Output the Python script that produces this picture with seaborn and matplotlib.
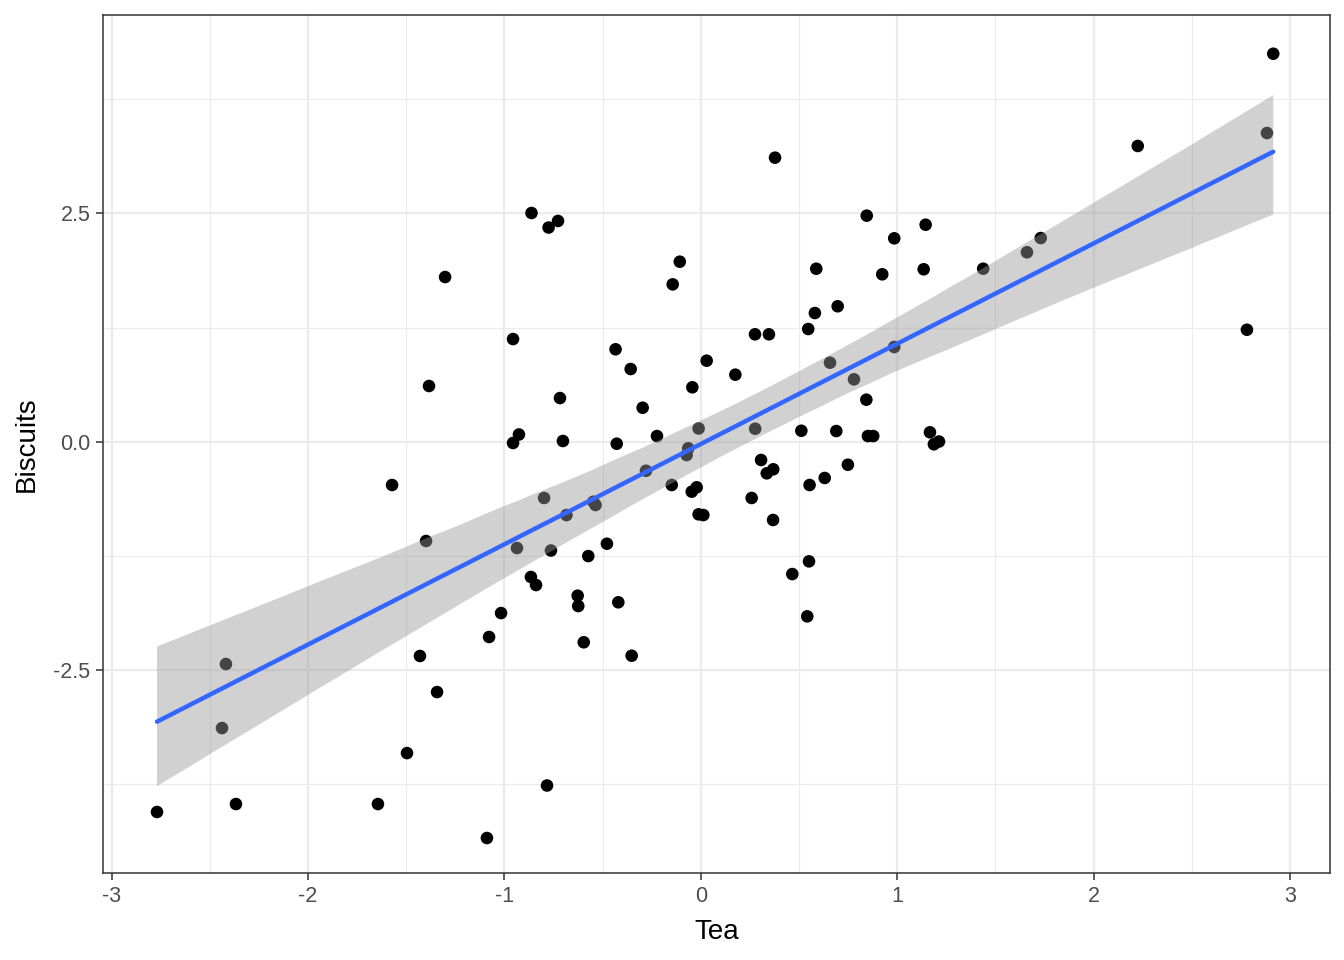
import numpy as np
import pandas as pd
import matplotlib
matplotlib.use("Agg")
import matplotlib.pyplot as plt
import seaborn as sns

tea = [-2.769, -2.418, -2.438, -2.367, -1.644, -1.496, -1.430, -1.343, -1.399, -1.384,
       -1.302, -1.572, -1.089, -1.078, -1.017, -0.956, -0.956, -0.926, -0.936, -0.862,
       -0.865, -0.839, -0.798, -0.775, -0.727, -0.717, -0.702, -0.684, -0.763, -0.783,
       -0.627, -0.624, -0.596, -0.573, -0.547, -0.536, -0.478, -0.434, -0.428, -0.420,
       -0.357, -0.352, -0.296, -0.279, -0.223, -0.143, -0.148, -0.107, -0.072, -0.064,
       -0.043, -0.046, -0.021, -0.011, -0.011, 0.013, 0.030, 0.176, 0.259, 0.276,
       0.277, 0.307, 0.336, 0.347, 0.369, 0.368, 0.378, 0.466, 0.512, 0.542,
       0.547, 0.551, 0.554, 0.581, 0.588, 0.631, 0.658, 0.690, 0.697, 0.749,
       0.780, 0.843, 0.845, 0.851, 0.878, 0.924, 0.985, 0.985, 1.135, 1.145,
       1.167, 1.187, 1.213, 1.438, 1.661, 1.731, 2.225, 2.781, 2.883, 2.915]

biscuits = [-4.054, -2.434, -3.135, -3.967, -3.967, -3.409, -2.346, -2.741, -1.087, 0.610,
            1.803, -0.474, -4.339, -2.138, -1.876, 1.124, -0.014, 0.079, -1.164, 2.504,
            -1.481, -1.569, -0.616, 2.345, 2.417, 0.478, 0.008, -0.803, -1.191, -3.764,
            -1.686, -1.799, -2.196, -1.252, -0.657, -0.693, -1.117, 1.012, -0.022, -1.758,
            0.796, -2.343, 0.372, -0.318, 0.062, 1.723, -0.474, 1.971, -0.146, -0.072,
            0.596, -0.547, -0.499, 0.145, -0.795, -0.803, 0.887, 0.734, -0.616, 1.176,
            0.142, -0.200, -0.346, 1.176, -0.302, -0.857, 3.110, -1.449, 0.120, -1.912,
            1.234, -1.310, -0.474, 1.409, 1.894, -0.397, 0.865, 0.117, 1.483, -0.252,
            0.683, 0.460, 2.475, 0.062, 0.062, 1.833, 1.037, 2.227, 1.888, 2.376,
            0.103, -0.028, 0.002, 1.894, 2.074, 2.230, 3.238, 1.226, 3.380, 4.248]

x_ticks = [-3, -2, -1, 0, 1, 2, 3]
x_tick_labels = ["-3", "-2", "-1", "0", "1", "2", "3"]
y_ticks = [-2.5, 0.0, 2.5]
y_tick_labels = ["-2.5", "0.0", "2.5"]

df = pd.DataFrame({"Tea": tea, "Biscuits": biscuits})

sns.set_theme(style="white")
plt.rcParams["font.family"] = ["Liberation Sans", "DejaVu Sans"]

fig = plt.figure(figsize=(13.44, 9.6), dpi=100)
ax = fig.add_axes([103 / 1344, 1 - 873 / 960, (1330 - 103) / 1344, (873 - 15) / 960])

sns.regplot(data=df, x="Tea", y="Biscuits", ax=ax, ci=95, n_boot=5000, seed=0,
            scatter_kws=dict(s=82, color="black", edgecolors="none", alpha=1, zorder=1),
            line_kws=dict(color="#3366FF", lw=3.2, zorder=3))

# restyle CI band like ggplot (grey60, alpha .4)
from matplotlib.collections import PolyCollection
for c in ax.collections:
    if isinstance(c, PolyCollection):
        c.set_facecolor("#999999")
        c.set_alpha(0.45)
        c.set_edgecolor("none")
        c.set_zorder(2)

ax.set_xlim(-3.044, 3.204)
ax.set_ylim(-4.722, 4.672)

ax.set_xticks(x_ticks)
ax.set_xticklabels(x_tick_labels)
ax.set_yticks(y_ticks)
ax.set_yticklabels(y_tick_labels)
ax.set_xticks([-2.5, -1.5, -0.5, 0.5, 1.5, 2.5], minor=True)
ax.set_yticks([-3.75, -1.25, 1.25, 3.75], minor=True)

ax.set_axisbelow(True)
ax.grid(which="major", color="#EBEBEB", lw=1.6)
ax.grid(which="minor", color="#EBEBEB", lw=0.8)

ax.tick_params(axis="both", which="major", direction="out", length=5, width=1.1,
               color="#333333", labelcolor="#4D4D4D", labelsize=15.5, pad=4,
               bottom=True, left=True)
ax.tick_params(axis="both", which="minor", length=0)

for sp in ax.spines.values():
    sp.set_color("#333333")
    sp.set_linewidth(1.1)
    sp.set_zorder(5)

ax.set_xlabel("Tea", fontsize=20, color="black", labelpad=9)
ax.set_ylabel("Biscuits", fontsize=20, color="black", labelpad=10)

fig.savefig("out.png", dpi=100, facecolor="white")
